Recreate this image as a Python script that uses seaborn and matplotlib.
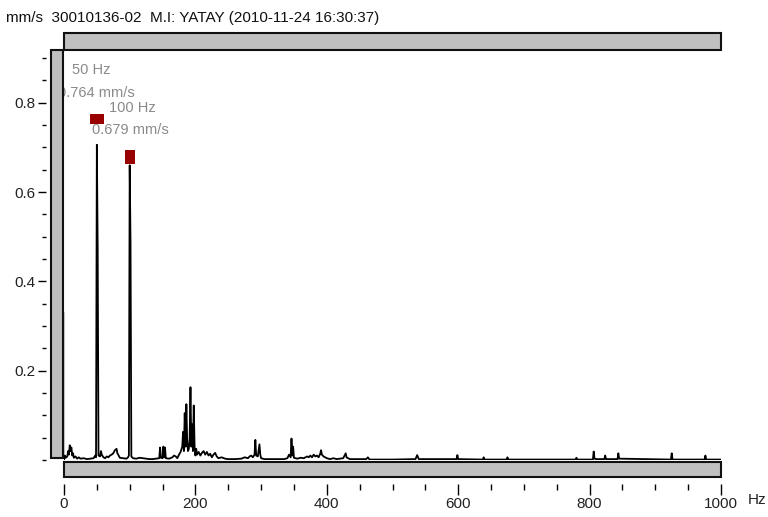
import matplotlib
matplotlib.use("Agg")
import matplotlib.pyplot as plt
from matplotlib.patches import Rectangle
from matplotlib.ticker import MultipleLocator
import seaborn as sns
import pandas as pd

# Vibration velocity spectrum (horizontal direction)
freq_hz = [
    0, 1.25, 2.5, 5, 6.25, 7.5, 8.75, 10, 11.25, 12.5, 13.75, 15, 17.5, 20, 22.5, 25, 30, 35, 40, 45,
    47.5, 48.75, 50, 51.25, 52.5, 55, 56.25, 57.5, 60, 62.5, 65, 67.5, 70, 72.5, 75, 77.5, 80, 81.25,
    82.5, 85, 90, 95, 97.5, 98.75, 100, 101.25, 102.5, 105, 110, 115, 120, 125, 130, 135, 140, 145,
    146.25, 147.5, 150, 151.25, 152.5, 153.75, 155, 160, 165, 167.5, 170, 172.5, 175, 177.5, 180,
    181.25, 182.5, 183.75, 185, 186.25, 187.5, 188.75, 190, 191.25, 192.5, 193.75, 195, 196.25,
    197.5, 198.75, 200, 201.25, 202.5, 205, 207.5, 210, 212.5, 215, 217.5, 220, 222.5, 225, 227.5,
    230, 232.5, 235, 240, 245, 250, 260, 270, 275, 280, 282.5, 285, 287.5, 290, 291.25, 292.5, 295,
    297.5, 298.75, 300, 305, 315, 325, 335, 340, 342.5, 345, 346.25, 347.5, 348.75, 350, 355, 360,
    365, 370, 372.5, 375, 377.5, 380, 382.5, 385, 387.5, 390, 391.25, 392.5, 395, 397.5, 400, 405,
    410, 415, 420, 425, 428.75, 430, 435, 445, 460, 462.5, 465, 500, 535, 537.5, 540, 597.5, 598.75,
    600, 637.5, 638.75, 640, 673.75, 675, 676.25, 778.75, 780, 781.25, 805, 806.25, 807.5, 810,
    822.5, 823.75, 825, 842.5, 843.75, 845, 923.75, 925, 926.25, 975, 976.25, 977.5, 1000,
]
amp_mms = [
    0.0, 0.01, 0.005, 0.008, 0.02, 0.012, 0.033, 0.02, 0.028, 0.01, 0.015, 0.005, 0.008, 0.003, 0.006, 0.003, 0.004, 0.002, 0.003, 0.004,
    0.01, 0.006, 0.706, 0.477, 0.01, 0.008, 0.02, 0.012, 0.006, 0.004, 0.008, 0.006, 0.01, 0.012, 0.015, 0.022, 0.025, 0.015,
    0.012, 0.005, 0.004, 0.003, 0.006, 0.01, 0.66, 0.486, 0.008, 0.004, 0.003, 0.005, 0.004, 0.003, 0.002, 0.002, 0.003, 0.004,
    0.028, 0.005, 0.004, 0.03, 0.006, 0.028, 0.004, 0.003, 0.006, 0.01, 0.008, 0.004, 0.012, 0.018, 0.03,
    0.063, 0.02, 0.105, 0.03, 0.125, 0.04, 0.02, 0.025, 0.05, 0.163, 0.03, 0.08, 0.02,
    0.122, 0.03, 0.01, 0.025, 0.012, 0.018, 0.01, 0.016, 0.02, 0.012, 0.018, 0.01, 0.014, 0.006, 0.012,
    0.016, 0.008, 0.004, 0.006, 0.003, 0.002, 0.002, 0.003, 0.006, 0.004, 0.008, 0.01, 0.006, 0.012, 0.045, 0.01, 0.008,
    0.035, 0.012, 0.004, 0.002, 0.002, 0.002, 0.002, 0.004, 0.012, 0.006, 0.048, 0.01, 0.03, 0.005, 0.003, 0.005,
    0.004, 0.008, 0.006, 0.01, 0.006, 0.012, 0.008, 0.01, 0.006, 0.014, 0.022, 0.012, 0.008, 0.006, 0.004, 0.002,
    0.004, 0.002, 0.003, 0.004, 0.015, 0.006, 0.002, 0.002, 0.002, 0.006, 0.001, 0.001, 0.002, 0.011, 0.002, 0.002, 0.011,
    0.002, 0.001, 0.006, 0.001, 0.001, 0.006, 0.001, 0.001, 0.005, 0.001, 0.001, 0.019, 0.003, 0.002,
    0.002, 0.01, 0.002, 0.002, 0.015, 0.003, 0.001, 0.015, 0.001, 0.001, 0.01, 0.001, 0.001,
]

# Running-speed harmonics picked out by the cursor
peak_freq = [50, 100]
peak_amp = [0.764, 0.679]
peak_names = ["50 Hz", "100 Hz"]
peak_values = ["0.764 mm/s", "0.679 mm/s"]

dc_freq = [0.6, 0.6]
dc_amp = [0.0, 0.33]

title_text = "mm/s  30010136-02  M.I: YATAY (2010-11-24 16:30:37)"
x_ticks = [0, 200, 400, 600, 800, 1000]
y_ticks = [0.2, 0.4, 0.6, 0.8]

sns.set_theme(style="white")
plt.rcParams["font.family"] = ["Liberation Sans", "DejaVu Sans"]

W, H = 768, 517
fig = plt.figure(figsize=(W / 100, H / 100), dpi=100)
ax = fig.add_axes([64 / W, (H - 460) / H, (721 - 64) / W, (460 - 50) / H])

df = pd.DataFrame({"freq": freq_hz, "amp": amp_mms})
sns.lineplot(data=df, x="freq", y="amp", ax=ax, color="black", lw=1.3,
             sort=False, estimator=None, zorder=3)
ax.plot(dc_freq, dc_amp, color="#c8c8c8", lw=1.5, zorder=2)

# cursor markers (slightly different box shapes)
ax.scatter([peak_freq[0]], [peak_amp[0]], marker=[(-1, -0.75), (1, -0.75), (1, 0.75), (-1, 0.75)],
           s=90, color="#990000", zorder=5, linewidths=0)
ax.scatter([peak_freq[1]], [peak_amp[1]], marker=[(-1, -1.3), (1, -1.3), (1, 1.3), (-1, 1.3)],
           s=90, color="#990000", zorder=5, linewidths=0)

lab_kw = dict(color="#8a8a8a", fontsize=10.5, zorder=4)
ax.text(42, 0.873, peak_names[0], ha="center", va="center", **lab_kw)
ax.text(-9, 0.821, peak_values[0], ha="left", va="center", clip_on=False, **lab_kw)
ax.text(68, 0.788, peak_names[1], ha="left", va="center",
        bbox=dict(facecolor="white", edgecolor="none", pad=1.5), **lab_kw)
ax.text(42.5, 0.738, peak_values[1], ha="left", va="center", **lab_kw)

ax.set_xlim(0, 1000)
ax.set_ylim(0, (460 - 50) / 446.5)
ax.set_xlabel("")
ax.set_ylabel("")
for s in ax.spines.values():
    s.set_visible(False)

ax.set_xticks(x_ticks)
ax.set_xticklabels([str(t) for t in x_ticks])
ax.xaxis.set_minor_locator(MultipleLocator(50))
ax.set_yticks(y_ticks)
ax.set_yticklabels([f"{t:.1f}" for t in y_ticks])
ax.yaxis.set_minor_locator(MultipleLocator(0.05))
ax.spines["left"].set_position(("outward", 13))
ax.spines["bottom"].set_position(("outward", 17))
ax.tick_params(axis="x", which="major", direction="out", length=8, width=1, color="black",
               bottom=True, labelsize=11, pad=2, labelcolor="#222222")
ax.tick_params(axis="x", which="minor", direction="out", length=4.5, width=1, color="black", bottom=True)
ax.tick_params(axis="y", which="major", direction="out", length=6, width=1, color="black",
               left=True, labelsize=11, pad=1.5, labelcolor="#222222")
ax.tick_params(axis="y", which="minor", direction="out", length=3, width=1, color="black", left=True)


def px_rect(x0, y0, x1, y1):
    return Rectangle((x0 / W, 1 - y1 / H), (x1 - x0) / W, (y1 - y0) / H,
                     transform=fig.transFigure, facecolor="#c0c0c0", edgecolor="#111111",
                     lw=1.5, zorder=10)


fig.patches.append(px_rect(64, 33, 721, 50))
fig.patches.append(px_rect(51, 50, 63, 458))
fig.patches.append(px_rect(64, 462, 721, 477))

fig.text(6 / W, 1 - 18 / H, title_text, ha="left", va="center", fontsize=11, color="#111111")
fig.text(748 / W, 1 - 500 / H, "Hz", ha="left", va="center", fontsize=11, color="#222222")

fig.savefig("out.png", dpi=100)
